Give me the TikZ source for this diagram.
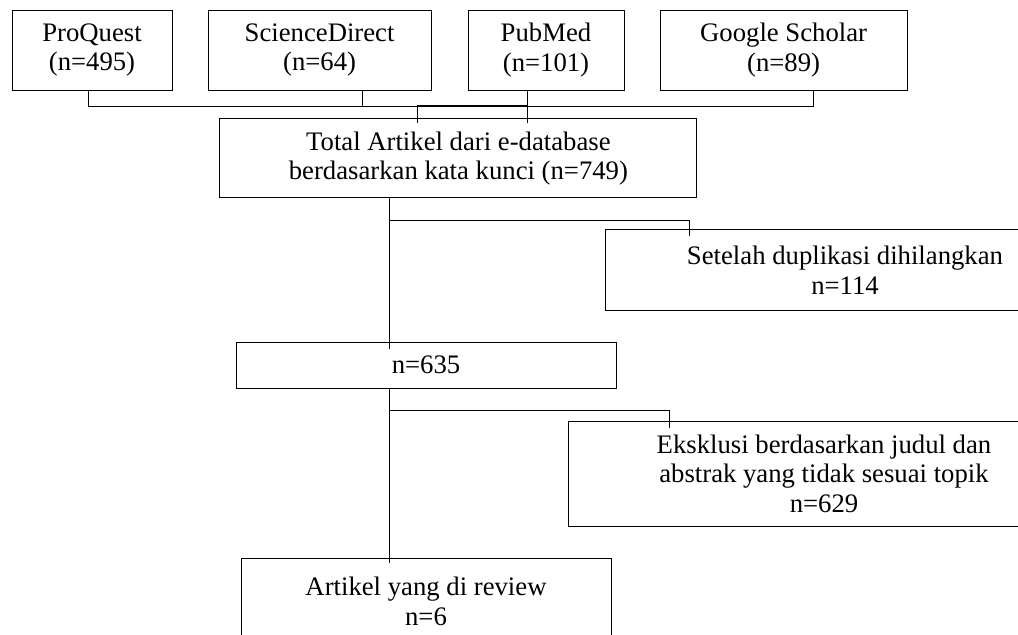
\documentclass[tikz,border=0pt]{standalone}
\usepackage{fontspec}
\setmainfont{Liberation Serif}
\usetikzlibrary{positioning}

\begin{document}
\begin{tikzpicture}[font=\fontsize{19}{21}\selectfont,
  box/.style={rectangle, draw, line width=0.6pt, align=center, inner sep=0pt},
  link/.style={line width=0.6pt}]
  \useasboundingbox (0,0) rectangle (25.45,-15.875);
  \clip (0,0) rectangle (25.45,-15.875);
  % sumber database
  \node[box, minimum width=4cm, minimum height=2cm] (pq) at (2.3,-1.25) {ProQuest\\(n=495)};
  \node[box, minimum width=5.575cm, minimum height=2cm] (sd) at (7.99,-1.25) {ScienceDirect\\(n=64)};
  \node[box, minimum width=3.9cm, minimum height=2cm] (pm) at (13.65,-1.25) {PubMed\\(n=101)};
  \node[box, minimum width=6.175cm, minimum height=2cm] (gs) at (19.59,-1.25) {Google Scholar\\(n=89)};
  \node[box, minimum width=11.925cm, minimum height=1.975cm] (total) at (11.46,-3.96) {Total Artikel dari e-database\\berdasarkan kata kunci (n=749)};
  \node[box, minimum width=12cm, minimum height=2.025cm] (dup) at (21.125,-6.76) {Setelah duplikasi dihilangkan\\n=114};
  \node[box, minimum width=9.5cm, minimum height=1.15cm] (n635) at (10.65,-9.125) {n=635};
  \node[box, minimum width=12.8cm, minimum height=2.625cm] (eks) at (20.6,-11.84) {Eksklusi berdasarkan judul dan\\abstrak yang tidak sesuai topik\\n=629};
  \node[box, minimum width=9.25cm, minimum height=2.15cm] (art) at (10.65,-15.03) {Artikel yang di review\\n=6};

  % garis penghubung atas
  \coordinate (bus) at (0,-2.65);
  \coordinate (sddrop) at ([xshift=10.6mm]sd.south);
  \coordinate (pmdrop) at ([xshift=-4.75mm]pm.south);
  \coordinate (totin) at ([xshift=-10.35mm]total.north);
  \draw[link] ([xshift=-1mm]pq.south) |- ([xshift=7.35mm]gs.south |- bus) -- ([xshift=7.35mm]gs.south);
  \draw[link] (sddrop) -- (sddrop |- bus);
  \draw[link] (pmdrop) -- ([yshift=-1.25mm]pmdrop |- total.north);
  \draw[link] (totin |- bus) -- ([yshift=-1.25mm]totin);
  \draw[line width=1.4pt] (totin |- bus) -- (pmdrop |- bus);

  % alur ke bawah
  \coordinate (tdrop) at ([xshift=-17.35mm]total.south);
  \draw[link] (tdrop) -- ([yshift=-1.75mm]tdrop |- n635.north);
  \draw[link] ([yshift=-5.5mm]tdrop) -| ([xshift=-39mm,yshift=-1.75mm]dup.north);
  \coordinate (ndrop) at ([xshift=-9.25mm]n635.south);
  \draw[link] (ndrop) -- ([yshift=-1.25mm]ndrop |- art.north);
  \draw[link] ([yshift=-5.5mm]ndrop) -| ([xshift=-38.75mm,yshift=-1.75mm]eks.north);
\end{tikzpicture}
\end{document}
